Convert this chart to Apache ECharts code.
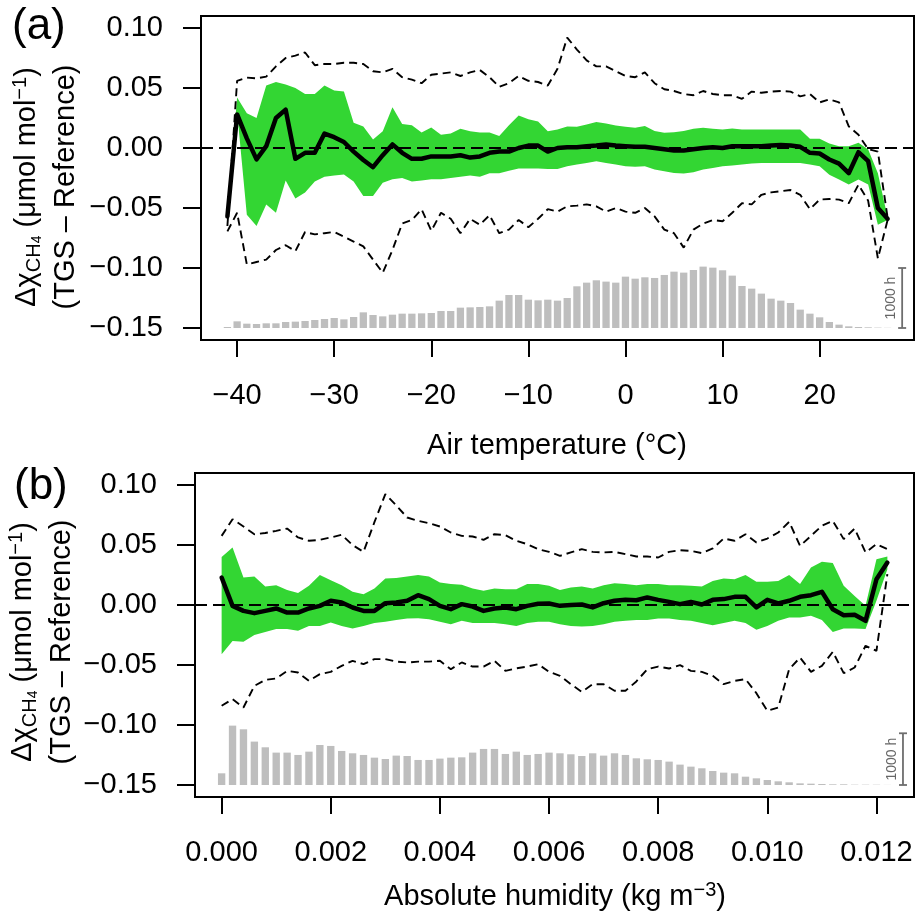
<!DOCTYPE html>
<html><head><meta charset="utf-8">
<script src="https://cdn.jsdelivr.net/npm/echarts@6/dist/echarts.min.js"></script>
<style>html,body{margin:0;padding:0;background:#fff}#c{width:919px;height:914px}</style>
</head><body><div id="c"></div>
<script>
// ---------- Panel (a): air temperature bins (°C) ----------
const tempC = [-41,-40,-39,-38,-37,-36,-35,-34,-33,-32,-31,-30,-29,-28,-27,-26,-25,-24,-23,-22,-21,-20,-19,-18,-17,-16,-15,-14,-13,-12,-11,-10,-9,-8,-7,-6,-5,-4,-3,-2,-1,0,1,2,3,4,5,6,7,8,9,10,11,12,13,14,15,16,17,18,19,20,21,22,23,24,25,26,27];
const meanA = [-0.057,0.028,0.008,-0.0095,0.0015,0.025,0.032,-0.009,-0.004,-0.004,
  0.012,0.009,0.005,-0.003,-0.010,-0.016,-0.006,0.003,-0.004,-0.009,
  -0.009,-0.007,-0.007,-0.007,-0.006,-0.008,-0.007,-0.004,-0.003,-0.003,
  0.000,0.002,0.002,-0.003,0.000,0.0007,0.0007,0.0015,0.002,0.003,
  0.002,0.0015,0.001,0.001,0.000,-0.001,-0.002,-0.002,-0.001,0.000,
  0.0007,0.000,0.0015,0.0015,0.0015,0.0015,0.002,0.0025,0.002,0.001,
  -0.004,-0.0046,-0.0096,-0.013,-0.021,-0.0035,-0.011,-0.050,-0.059];
const bandHiA = [-0.055,0.042,0.029,0.025,0.052,0.055,0.053,0.050,0.045,0.045,
  0.052,0.048,0.047,0.021,0.018,0.007,0.014,0.034,0.020,0.019,
  0.013,0.017,0.011,0.012,0.016,0.014,0.013,0.013,0.010,0.019,
  0.027,0.024,0.022,0.014,0.0155,0.018,0.0177,0.0196,0.0216,0.0205,
  0.0188,0.0177,0.0169,0.0183,0.0141,0.0127,0.0132,0.0141,0.016,0.0169,
  0.016,0.0155,0.0163,0.0155,0.0155,0.0155,0.0155,0.0155,0.0155,0.0155,
  0.0077,0.0077,0.0038,0.0015,0.0015,0.0043,-0.0013,-0.021,-0.058];
const bandLoA = [-0.059,0.030,-0.0556,-0.065,-0.047,-0.054,-0.027,-0.042,-0.037,-0.028,
  -0.024,-0.023,-0.022,-0.028,-0.040,-0.040,-0.029,-0.026,-0.025,-0.028,
  -0.027,-0.026,-0.026,-0.025,-0.024,-0.023,-0.024,-0.021,-0.021,-0.019,
  -0.017,-0.017,-0.017,-0.0174,-0.0174,-0.0152,-0.0138,-0.0124,-0.011,-0.0124,
  -0.0138,-0.0152,-0.0157,-0.0152,-0.018,-0.0194,-0.0208,-0.0213,-0.0202,-0.018,
  -0.0166,-0.0152,-0.0146,-0.0138,-0.013,-0.0124,-0.0124,-0.0124,-0.0124,-0.0124,
  -0.0138,-0.0152,-0.0222,-0.0263,-0.0305,-0.0263,-0.0305,-0.064,-0.060];
const dashHiA = [-0.065,0.056,0.0587,0.058,0.0595,0.068,0.075,0.077,0.0796,0.069,
  0.070,0.070,0.071,0.071,0.070,0.064,0.063,0.066,0.059,0.057,
  0.054,0.061,0.062,0.063,0.060,0.063,0.065,0.059,0.051,0.054,
  0.060,0.056,0.055,0.052,0.066,0.092,0.082,0.073,0.068,0.068,
  0.064,0.060,0.059,0.063,0.054,0.049,0.0475,0.045,0.044,0.0475,
  0.045,0.044,0.044,0.041,0.047,0.046,0.047,0.0475,0.047,0.043,
  0.045,0.038,0.0405,0.038,0.018,0.011,-0.001,-0.003,-0.058];
const dashLoA = [-0.0695,-0.054,-0.097,-0.095,-0.093,-0.085,-0.081,-0.086,-0.070,-0.072,
  -0.071,-0.070,-0.074,-0.078,-0.082,-0.093,-0.104,-0.085,-0.063,-0.060,
  -0.051,-0.069,-0.054,-0.059,-0.071,-0.059,-0.064,-0.056,-0.071,-0.068,
  -0.060,-0.066,-0.059,-0.051,-0.053,-0.0486,-0.048,-0.047,-0.0486,-0.053,
  -0.050,-0.053,-0.054,-0.050,-0.057,-0.068,-0.071,-0.083,-0.068,-0.063,
  -0.060,-0.061,-0.054,-0.046,-0.047,-0.039,-0.037,-0.036,-0.035,-0.039,
  -0.051,-0.043,-0.0425,-0.043,-0.046,-0.0305,-0.044,-0.092,-0.060];
const hoursA = [17,111,72,67,78,78,100,106,117,133,150,167,144,183,261,217,194,222,239,239,244,250,283,283,339,344,350,361,456,550,550,472,461,
  472,456,500,695,756,795,773,756,856,822,845,834,884,939,923,967,1023,1006,962,873,700,656,573,489,456,417,306,239,178,100,56,28,17,11,6,3];

// ---------- Panel (b): absolute humidity bins (kg m^-3) ----------
const humid = [0,0.0002,0.0004,0.0006,0.0008,0.001,0.0012,0.0014,0.0016,0.0018,0.002,0.0022,0.0024,0.0026,0.0028,0.003,0.0032,0.0034,0.0036,0.0038,0.004,0.0042,0.0044,0.0046,0.0048,0.005,0.0052,0.0054,0.0056,0.0058,0.006,0.0062,0.0064,0.0066,0.0068,0.007,0.0072,0.0074,0.0076,0.0078,0.008,0.0082,0.0084,0.0086,0.0088,0.009,0.0092,0.0094,0.0096,0.0098,0.01,0.0102,0.0104,0.0106,0.0108,0.011,0.0112,0.0114,0.0116,0.0118,0.012,0.0122];
const meanB = [0.0229,-0.0007,-0.0049,-0.0068,-0.0049,-0.0029,-0.0063,-0.0063,-0.0029,-0.0007,
  0.0035,0.0021,-0.0021,-0.0049,-0.0049,0.0015,0.0021,0.0035,0.0082,0.0049,
  -0.0007,-0.0035,0.0007,-0.0013,-0.0049,-0.0029,-0.0021,-0.0035,-0.0007,0.001,
  0.0012,-0.0007,0.0000,0.0004,-0.002,0.0015,0.0035,0.0043,0.004,0.0063,
  0.0043,0.0026,0.0007,0.0026,0.0004,0.0043,0.0049,0.0068,0.0068,-0.002,
  0.0043,0.0013,0.0035,0.0068,0.0082,0.011,-0.0035,-0.0085,-0.0082,-0.0132,
  0.0215,0.0354];
const bandHiB = [0.040,0.048,0.0229,0.0237,0.0154,0.0165,0.0126,0.0099,0.016,0.0249,
  0.0207,0.0165,0.011,0.009,0.0138,0.0221,0.0224,0.0237,0.0249,0.0237,
  0.0188,0.0174,0.0168,0.0138,0.0118,0.0138,0.0132,0.0132,0.0174,0.0174,
  0.016,0.0126,0.0146,0.0154,0.0138,0.0165,0.0182,0.0174,0.0165,0.0174,
  0.0174,0.0165,0.0165,0.016,0.0154,0.0201,0.0221,0.0215,0.0249,0.0193,
  0.0193,0.0201,0.0249,0.0174,0.0313,0.036,0.0349,0.016,0.0076,-0.0007,
  0.0382,0.0404];
const bandLoB = [-0.041,-0.0299,-0.0307,-0.0251,-0.0224,-0.0201,-0.0201,-0.0215,-0.0174,-0.0174,
  -0.0146,-0.0174,-0.0196,-0.0174,-0.0151,-0.014,-0.0124,-0.0113,-0.011,-0.0118,
  -0.014,-0.016,-0.0132,-0.0151,-0.0151,-0.0151,-0.016,-0.0174,-0.0151,-0.014,
  -0.014,-0.016,-0.0174,-0.0179,-0.0174,-0.016,-0.014,-0.0132,-0.0124,-0.0124,
  -0.0113,-0.0113,-0.0124,-0.0132,-0.0151,-0.0168,-0.0151,-0.0132,-0.0151,-0.0207,
  -0.0174,-0.0132,-0.0104,-0.0104,-0.009,-0.0124,-0.0224,-0.0196,-0.0196,-0.0201,
  0.0035,0.0297];
const dashHiB = [0.0576,0.0715,0.0654,0.059,0.060,0.0618,0.0637,0.0563,0.0535,0.0543,
  0.0563,0.0585,0.0499,0.0443,0.069,0.0924,0.083,0.0729,0.0701,0.0682,
  0.0654,0.0604,0.0576,0.0571,0.0543,0.059,0.0582,0.0535,0.0507,0.0465,
  0.0443,0.041,0.0438,0.0465,0.0443,0.0438,0.0443,0.0424,0.0404,0.0404,
  0.0396,0.0443,0.0457,0.0451,0.0432,0.0471,0.0554,0.0535,0.059,0.0521,
  0.0554,0.0604,0.0693,0.0493,0.0576,0.066,0.0701,0.0549,0.0637,0.0438,
  0.0507,0.0465];
const dashLoB = [-0.084,-0.0785,-0.0854,-0.0674,-0.0624,-0.0612,-0.0549,-0.0563,-0.0632,-0.0576,
  -0.0557,-0.0507,-0.0465,-0.0493,-0.0451,-0.0451,-0.0472,-0.0479,-0.0472,-0.0472,
  -0.0465,-0.0535,-0.0479,-0.0513,-0.0513,-0.0465,-0.0549,-0.0528,-0.0513,-0.0493,
  -0.0557,-0.059,-0.066,-0.0724,-0.066,-0.066,-0.0715,-0.0715,-0.0637,-0.0535,
  -0.0513,-0.0529,-0.0501,-0.0549,-0.0557,-0.059,-0.066,-0.0632,-0.0618,-0.0735,
  -0.0882,-0.0854,-0.0535,-0.0438,-0.0557,-0.0507,-0.039,-0.0568,-0.0521,-0.034,
  -0.0382,0.0257];
const hoursB = [226,1148,1077,839,729,626,626,581,645,774,
  755,658,613,581,529,503,568,561,484,484,
  510,529,535,626,697,697,600,645,581,600,
  626,613,594,561,613,568,613,581,516,497,
  484,452,394,355,323,271,239,226,161,129,
  97,71,52,32,26,19,13,13,6,6,5,2];

// ---------- tick labels ----------
const xTicksA = [-40,-30,-20,-10,0,10,20];
const xTicksB = [0,0.002,0.004,0.006,0.008,0.010,0.012];
const yTicks = [-0.15,-0.10,-0.05,0,0.05,0.10];

// ---------- styling / helpers ----------
const FONT = '"Liberation Sans", Arial, Helvetica, sans-serif';
const GREEN = '#33d633';
const BAR = '#bebebe';
const SCALEC = '#6e6e6e';
const BASE = -0.15;          // histogram baseline (data units)
const HSCALE_A = 0.05/1000;  // y units per hour, panel a
const HSCALE_B = 0.0431/1000;// y units per hour, panel b

function fmtNum(d){ return v => (v < 0 ? '\u2212' : '') + Math.abs(v).toFixed(d); }

function histSeries(gi, xs, hours, binW, hScale){
  return {type:'custom', xAxisIndex:gi, yAxisIndex:gi, z:1, silent:true, clip:false,
    data: xs.map((x,i)=>[x, hours[i]]),
    renderItem(params, api){
      const x = api.value(0), h = api.value(1);
      const a = api.coord([x - binW/2, BASE + h*hScale]);
      const b = api.coord([x + binW/2, BASE]);
      return {type:'rect', shape:{x:a[0], y:a[1], width:b[0]-a[0], height:b[1]-a[1]}, style:{fill:BAR}};
    }};
}
function bandSeries(gi, xs, lo, hi){
  return {type:'custom', xAxisIndex:gi, yAxisIndex:gi, z:2, silent:true, clip:false,
    data: [[xs[0], lo[0]]],
    renderItem(params, api){
      if (params.dataIndex !== 0) return null;
      const pts = [];
      for (let i=0;i<xs.length;i++) pts.push(api.coord([xs[i], hi[i]]));
      for (let i=xs.length-1;i>=0;i--) pts.push(api.coord([xs[i], lo[i]]));
      return {type:'polygon', shape:{points:pts}, style:{fill:GREEN}};
    }};
}
function lineSeries(gi, xs, ys, lineStyle, z, extra){
  return Object.assign({type:'line', xAxisIndex:gi, yAxisIndex:gi, z:z, silent:true,
    data: xs.map((x,i)=>[x, ys[i]]), showSymbol:false, symbol:'none', lineStyle:lineStyle}, extra||{});
}
function scaleBarSeries(gi, xPos, hScale){
  return {type:'custom', xAxisIndex:gi, yAxisIndex:gi, z:6, silent:true, clip:false,
    data:[[xPos, BASE]],
    renderItem(params, api){
      const p0 = api.coord([xPos, BASE]);
      const p1 = api.coord([xPos, BASE + 1000*hScale]);
      const ls = {stroke:SCALEC, lineWidth:1.8};
      return {type:'group', children:[
        {type:'line', shape:{x1:p0[0], y1:p0[1], x2:p1[0], y2:p1[1]}, style:ls},
        {type:'line', shape:{x1:p0[0]-4, y1:p0[1], x2:p0[0]+4, y2:p0[1]}, style:ls},
        {type:'line', shape:{x1:p1[0]-4, y1:p1[1], x2:p1[0]+4, y2:p1[1]}, style:ls},
        {type:'text', x:p0[0]-11, y:(p0[1]+p1[1])/2, rotation:Math.PI/2,
          style:{text:'1000 h', font:'14px '+FONT, fill:'#666',
                 align:'center', verticalAlign:'middle', textAlign:'center', textVerticalAlign:'middle'}}
      ]};
    }};
}

const dashStyle = {color:'#000', width:1.9, type:[8,5]};
const meanStyle = {color:'#000', width:4.5, join:'round', cap:'round'};
const zeroLine = {markLine:{silent:true, symbol:['none','none'], label:{show:false}, animation:false,
  lineStyle:{color:'#000', type:[12,6], width:1.8}, data:[{yAxis:0}]}};

function xAxisDef(gi, min, max, ticks, dec){
  return {gridIndex:gi, type:'value', min:min, max:max, position:'bottom',
    axisLine:{show:false, onZero:false}, splitLine:{show:false},
    axisTick:{show:true, length:17, lineStyle:{color:'#000', width:2}, customValues:ticks},
    axisLabel:{customValues:ticks, formatter:fmtNum(dec), fontSize:29, fontFamily:FONT, color:'#000',
      margin:55.5, verticalAlign:'middle'}};
}
function yAxisDef(gi){
  return {gridIndex:gi, type:'value', min:-0.16, max:0.11, position:'left',
    axisLine:{show:false, onZero:false}, splitLine:{show:false},
    axisTick:{show:true, length:18, lineStyle:{color:'#000', width:2}, customValues:yTicks},
    axisLabel:{customValues:yTicks, formatter:fmtNum(2), fontSize:29, fontFamily:FONT, color:'#000',
      margin:38, padding:[5,0,0,0]}};
}

const richY = {
  m:{fontSize:29, fontFamily:FONT, lineHeight:34, fill:'#000', color:'#000'},
  s:{fontSize:20, fontFamily:FONT, lineHeight:12, verticalAlign:'bottom', fill:'#000', color:'#000'},
  t:{fontSize:14, fontFamily:FONT, lineHeight:4, verticalAlign:'bottom', fill:'#000', color:'#000'},
  p:{fontSize:20, fontFamily:FONT, lineHeight:8, verticalAlign:'top', fill:'#000', color:'#000'}
};
function txt(x, y, text, opts){
  return Object.assign({type:'text', x:x, y:y, z:10, silent:true,
    style:Object.assign({text:text, fill:'#000', font:'29px '+FONT,
      align:'center', verticalAlign:'middle', textAlign:'center', textVerticalAlign:'middle'}, opts && opts.style || {})},
    opts && opts.el || {});
}
const yTitle1 = '{m|\u0394\u03c7}{s|CH}{t|4}{m| (\u03bcmol mol}{p|\u22121}{m|)}';
const yTitle2 = '(TGS \u2013 Reference)';

const chart = echarts.init(document.getElementById('c'), null, {renderer:'canvas'});
chart.setOption({
  animation:false,
  backgroundColor:'#fff',
  grid:[
    {left:201, top:16, width:713, height:324, show:true, borderColor:'#000', borderWidth:2, backgroundColor:'transparent', containLabel:false},
    {left:195, top:473, width:719, height:324, show:true, borderColor:'#000', borderWidth:2, backgroundColor:'transparent', containLabel:false}
  ],
  xAxis:[ xAxisDef(0, -43.72, 29.72, xTicksA, 0), xAxisDef(1, -0.000488, 0.012688, xTicksB, 3) ],
  yAxis:[ yAxisDef(0), yAxisDef(1) ],
  series:[
    histSeries(0, tempC, hoursA, 0.75, HSCALE_A),
    bandSeries(0, tempC, bandLoA, bandHiA),
    lineSeries(0, tempC, dashHiA, dashStyle, 3, zeroLine),
    lineSeries(0, tempC, dashLoA, dashStyle, 3),
    lineSeries(0, tempC, meanA, meanStyle, 4),
    scaleBarSeries(0, 28.5, HSCALE_A),

    histSeries(1, humid, hoursB, 0.000135, HSCALE_B),
    bandSeries(1, humid, bandLoB, bandHiB),
    lineSeries(1, humid, dashHiB, dashStyle, 3, zeroLine),
    lineSeries(1, humid, dashLoB, dashStyle, 3),
    lineSeries(1, humid, meanB, meanStyle, 4),
    scaleBarSeries(1, 0.012486, HSCALE_B)
  ],
  graphic:[
    txt(12, 27, '(a)', {style:{font:'44px '+FONT, align:'left', textAlign:'left'}}),
    txt(14, 487, '(b)', {style:{font:'44px '+FONT, align:'left', textAlign:'left'}}),
    txt(27, 187, yTitle1, {style:{rich:richY}, el:{rotation:Math.PI/2}}),
    txt(66, 187, yTitle2, {el:{rotation:Math.PI/2}}),
    txt(23, 642, yTitle1, {style:{rich:richY}, el:{rotation:Math.PI/2}}),
    txt(62, 642, yTitle2, {el:{rotation:Math.PI/2}}),
    txt(557, 446, 'Air temperature (\u00b0C)'),
    txt(555, 897, '{m|Absolute humidity (kg m}{p|\u22123}{m|)}', {style:{rich:richY}})
  ]
});
</script>
</body></html>
